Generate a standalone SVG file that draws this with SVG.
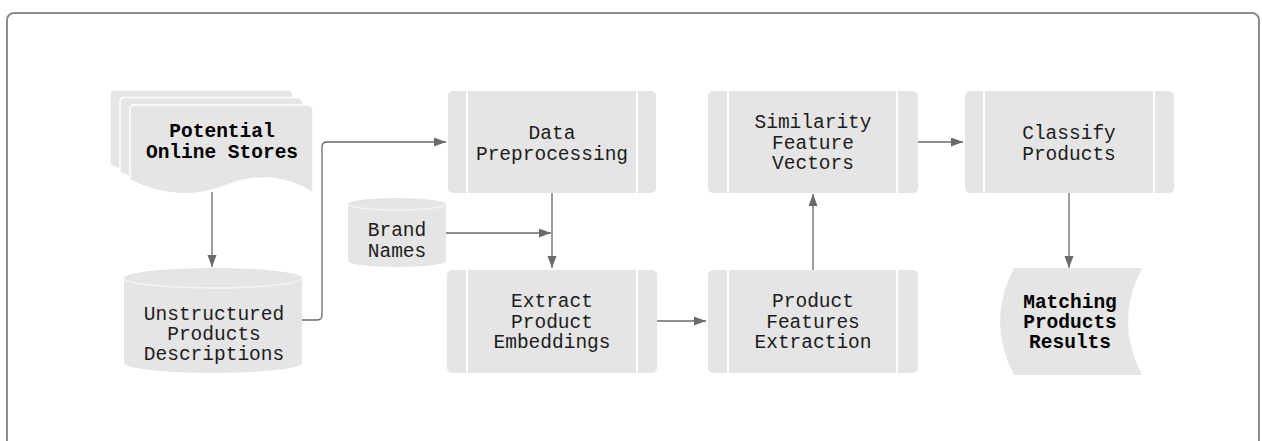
<svg xmlns="http://www.w3.org/2000/svg" width="1262" height="441" viewBox="0 0 1262 441">
  <style>
    .shape { fill: #e5e5e5; stroke: none; }
    .band { stroke: #ffffff; stroke-width: 2; fill: none; }
    .rim { fill: none; stroke: #f4f4f4; stroke-width: 1.5; }
    .label { font-family: "Liberation Mono", "DejaVu Sans Mono", monospace; font-size: 19.5px; fill: #1c1c1c; text-anchor: middle; }
    .bold { font-weight: bold; fill: #000000; }
    .edge { fill: none; stroke: #6a6a6a; stroke-width: 1.3; }
  </style>
  <defs>
    <marker id="arrow" markerUnits="userSpaceOnUse" markerWidth="13" markerHeight="10" refX="12" refY="4.5" orient="auto">
      <path d="M0,0 L12,4.5 L0,9 z" fill="#6a6a6a"/>
    </marker>
  </defs>

  <!-- outer frame -->
  <rect x="7" y="13" width="1252" height="450" rx="7" fill="#ffffff" stroke="#8c8c8c" stroke-width="2"/>

  <!-- connectors -->
  <g id="connectors">
    <path class="edge" d="M212,192 L212,267" marker-end="url(#arrow)"/>
    <path class="edge" d="M302,320 L317,320 Q322,320 322,315 L322,147 Q322,142 327,142 L446,142" marker-end="url(#arrow)"/>
    <path class="edge" d="M552,193 L552,268" marker-end="url(#arrow)"/>
    <path class="edge" d="M446,233 L551,233" marker-end="url(#arrow)"/>
    <path class="edge" d="M657,321 L706,321" marker-end="url(#arrow)"/>
    <path class="edge" d="M813,270 L813,194" marker-end="url(#arrow)"/>
    <path class="edge" d="M918,142 L963,142" marker-end="url(#arrow)"/>
    <path class="edge" d="M1069,193 L1069,268" marker-end="url(#arrow)"/>
  </g>

  <!-- multi-document source -->
  <g id="potential-online-stores">
    <path class="shape" d="M114,90 L287,90 Q293,90 293,96 L293,178 C270,163 240,160 205,171 C175,181 140,181 110,165 L110,94 Q110,90 114,90 z" style="stroke:#ffffff;stroke-width:1.5"/>
    <path class="shape" d="M124,97.5 L297,97.5 Q303,97.5 303,103.5 L303,185.5 C280,170 250,167 215,178 C185,188 150,188 120,172.5 L120,101.5 Q120,97.5 124,97.5 z" style="stroke:#ffffff;stroke-width:1.5"/>
    <path class="shape" d="M134,105 L307,105 Q313,105 313,111 L313,193 C290,178 260,172 225,186 C195,198 160,196 130,180 L130,109 Q130,105 134,105 z" style="stroke:#ffffff;stroke-width:1.5"/>
    <text class="label bold" x="222" y="137">Potential</text>
    <text class="label bold" x="222" y="158">Online Stores</text>
  </g>

  <!-- product descriptions store -->
  <g id="unstructured-products-descriptions">
    <path class="shape" d="M124,278 A89,10 0 0 1 302,278 L302,363 A89,10 0 0 1 124,363 z"/>
    <path class="rim" d="M124,278 A89,10 0 0 0 302,278"/>
    <text class="label" x="214" y="320">Unstructured</text>
    <text class="label" x="214" y="340">Products</text>
    <text class="label" x="214" y="360">Descriptions</text>
  </g>

  <!-- brand name store -->
  <g id="brand-names">
    <path class="shape" d="M348,204 A49,6 0 0 1 446,204 L446,261 A49,6 0 0 1 348,261 z"/>
    <path class="rim" d="M348,204 A49,6 0 0 0 446,204"/>
    <text class="label" x="397" y="236">Brand</text>
    <text class="label" x="397" y="257">Names</text>
  </g>

  <!-- processing steps -->
  <g id="data-preprocessing">
    <rect class="shape" x="448" y="91" width="208" height="102" rx="5"/>
    <path class="band" d="M467,91 V193 M637,91 V193"/>
    <text class="label" x="552" y="139">Data</text>
    <text class="label" x="552" y="160">Preprocessing</text>
  </g>

  <g id="extract-product-embeddings">
    <rect class="shape" x="447" y="270" width="210" height="103" rx="5"/>
    <path class="band" d="M467,270 V373 M637,270 V373"/>
    <text class="label" x="552" y="307">Extract</text>
    <text class="label" x="552" y="328">Product</text>
    <text class="label" x="552" y="348">Embeddings</text>
  </g>

  <g id="product-features-extraction">
    <rect class="shape" x="708" y="270" width="210" height="103" rx="5"/>
    <path class="band" d="M728,270 V373 M897,270 V373"/>
    <text class="label" x="813" y="307">Product</text>
    <text class="label" x="813" y="328">Features</text>
    <text class="label" x="813" y="348">Extraction</text>
  </g>

  <g id="similarity-feature-vectors">
    <rect class="shape" x="708" y="91" width="210" height="102" rx="5"/>
    <path class="band" d="M728,91 V193 M897,91 V193"/>
    <text class="label" x="813" y="128">Similarity</text>
    <text class="label" x="813" y="149">Feature</text>
    <text class="label" x="813" y="169">Vectors</text>
  </g>

  <g id="classify-products">
    <rect class="shape" x="965" y="91" width="209" height="102" rx="5"/>
    <path class="band" d="M984,91 V193 M1154,91 V193"/>
    <text class="label" x="1069" y="139">Classify</text>
    <text class="label" x="1069" y="160">Products</text>
  </g>

  <!-- result output -->
  <g id="matching-products-results">
    <path class="shape" d="M1014,268 L1142,268 Q1114,321.5 1142,375 L1014,375 Q986,321.5 1014,268 z"/>
    <text class="label bold" x="1070" y="308">Matching</text>
    <text class="label bold" x="1070" y="328">Products</text>
    <text class="label bold" x="1070" y="348">Results</text>
  </g>
</svg>
